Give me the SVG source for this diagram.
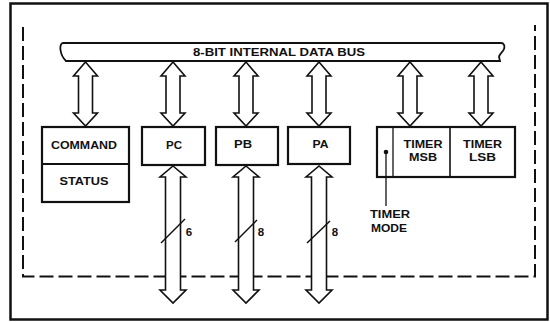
<svg xmlns="http://www.w3.org/2000/svg" width="550" height="322" viewBox="0 0 550 322">
<style>
.t{font-family:"Liberation Sans",Arial,sans-serif;font-weight:bold;fill:#111;text-anchor:middle}
.box{fill:#fff;stroke:#111;stroke-width:2.2}
.arr{fill:#fff;stroke:#111;stroke-width:1.6;stroke-linejoin:miter}
.slash{stroke:#111;stroke-width:1.5;fill:none}
</style>
<rect x="0" y="0" width="550" height="322" fill="#fff"/>
<rect x="10.5" y="3.5" width="537" height="316" fill="none" stroke="#111" stroke-width="2.5"/>
<path d="M23,27 L23,276.5 L535,276.5 L535,25" fill="none" stroke="#111" stroke-width="2" stroke-dasharray="14 5"/>

<g id="bus">
<path d="M63,43 L501,43 C504,43 505,46 504,49 C503,52 499,54 499,57 L500,61 L66,61 C63,58 61,54 60.5,50 C60,46 61,43 63,43 Z" fill="#fff" stroke="#111" stroke-width="1.8"/>
<text class="t" x="279" y="56" font-size="10.5" textLength="172" lengthAdjust="spacingAndGlyphs">8-BIT INTERNAL DATA BUS</text>
</g>

<g id="connectors">
<path class="arr" d="M85.5,62 L97.5,76 L92.5,76 L92.5,113 L97.5,113 L85.5,126 L73.5,113 L78.5,113 L78.5,76 L73.5,76 Z"/>
<path class="arr" d="M173,62 L185,76 L180,76 L180,113 L185,113 L173,126 L161,113 L166,113 L166,76 L161,76 Z"/>
<path class="arr" d="M246,62 L258,76 L253,76 L253,113 L258,113 L246,126 L234,113 L239,113 L239,76 L234,76 Z"/>
<path class="arr" d="M319,62 L331,76 L326,76 L326,113 L331,113 L319,126 L307,113 L312,113 L312,76 L307,76 Z"/>
<path class="arr" d="M410,62 L422,76 L417,76 L417,113 L422,113 L410,126 L398,113 L403,113 L403,76 L398,76 Z"/>
<path class="arr" d="M481,62 L493,76 L488,76 L488,113 L493,113 L481,126 L469,113 L474,113 L474,76 L469,76 Z"/>

<path class="arr" d="M173,166 L186,177 L180.5,177 L180.5,290 L186,290 L173,303 L160,290 L165.5,290 L165.5,177 L160,177 Z"/>
<path class="arr" d="M246,166 L259,177 L253.5,177 L253.5,290 L259,290 L246,303 L233,290 L238.5,290 L238.5,177 L233,177 Z"/>
<path class="arr" d="M319,166 L332,177 L326.5,177 L326.5,290 L332,290 L319,303 L306,290 L311.5,290 L311.5,177 L306,177 Z"/>
<line class="slash" x1="161" y1="243" x2="185" y2="219"/>
<line class="slash" x1="235" y1="242" x2="257" y2="220"/>
<line class="slash" x1="307" y1="243" x2="330" y2="221"/>
<text class="t" x="189" y="236" font-size="11.5">6</text>
<text class="t" x="261" y="236" font-size="11.5">8</text>
<text class="t" x="335" y="236" font-size="11.5">8</text>
</g>

<g id="command-status">
<rect class="box" x="42" y="127" width="87" height="75"/>
<line x1="42" y1="164" x2="129" y2="164" stroke="#111" stroke-width="1.8"/>
<text class="t" x="84" y="149" font-size="11.5" textLength="66" lengthAdjust="spacingAndGlyphs">COMMAND</text>
<text class="t" x="84" y="185" font-size="11.5" textLength="49" lengthAdjust="spacingAndGlyphs">STATUS</text>
</g>

<g id="pc">
<rect class="box" x="142" y="127" width="63" height="38"/>
<text class="t" x="174" y="149" font-size="11.5" textLength="16" lengthAdjust="spacingAndGlyphs">PC</text>
</g>
<g id="pb">
<rect class="box" x="216" y="127" width="62" height="38"/>
<text class="t" x="243" y="147.5" font-size="11.5" textLength="18" lengthAdjust="spacingAndGlyphs">PB</text>
</g>
<g id="pa">
<rect class="box" x="288" y="127" width="62" height="37"/>
<text class="t" x="320.5" y="147.5" font-size="11.5" textLength="16" lengthAdjust="spacingAndGlyphs">PA</text>
</g>

<g id="timer">
<rect class="box" x="377" y="127" width="138" height="50"/>
<line x1="393" y1="127" x2="393" y2="177" stroke="#111" stroke-width="1.3"/>
<line x1="450" y1="127" x2="450" y2="177" stroke="#111" stroke-width="1.6"/>
<text class="t" x="423" y="147.5" font-size="11.5" textLength="39" lengthAdjust="spacingAndGlyphs">TIMER</text>
<text class="t" x="423" y="161" font-size="11.5" textLength="28" lengthAdjust="spacingAndGlyphs">MSB</text>
<text class="t" x="482.5" y="147.5" font-size="11.5" textLength="39" lengthAdjust="spacingAndGlyphs">TIMER</text>
<text class="t" x="482.5" y="161" font-size="11.5" textLength="27" lengthAdjust="spacingAndGlyphs">LSB</text>
</g>

<g id="timer-mode">
<circle cx="386" cy="152" r="2.3" fill="#111"/>
<line x1="386" y1="152" x2="386" y2="206" stroke="#111" stroke-width="1.3"/>
<text class="t" x="390" y="217.5" font-size="11.5" textLength="40" lengthAdjust="spacingAndGlyphs">TIMER</text>
<text class="t" x="389" y="231.5" font-size="11.5" textLength="36" lengthAdjust="spacingAndGlyphs">MODE</text>
</g>
</svg>
